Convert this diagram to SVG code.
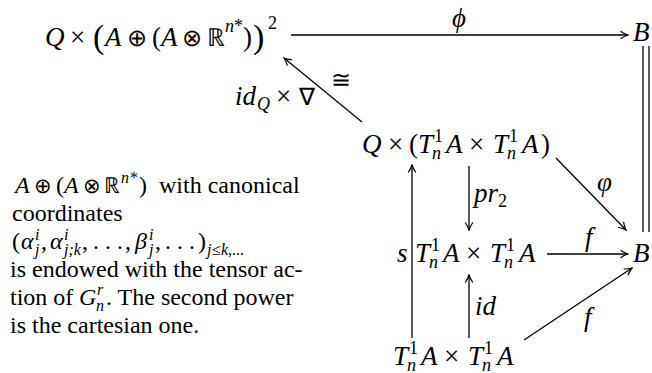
<svg xmlns="http://www.w3.org/2000/svg" width="652" height="373" viewBox="0 0 652 373">
<defs>
<marker id="ah" markerUnits="userSpaceOnUse" markerWidth="10" markerHeight="10" viewBox="-9 -5 10 10" refX="0" refY="0" orient="auto">
<path d="M-7.5,-3.8 Q-3,-0.8 0,0 Q-3,0.8 -7.5,3.8" fill="none" stroke="#000" stroke-width="1.2"/>
</marker>
</defs>
<rect width="652" height="373" fill="#fff"/>

<g id="n-top">
<text font-family="Liberation Serif" font-size="27" x="45" y="46" font-style="italic">Q</text>
<text font-family="Liberation Serif" font-size="27" x="70" y="46">×</text>
<text font-family="Liberation Serif" font-size="34" x="93" y="48">(</text>
<text font-family="Liberation Serif" font-size="27" x="105" y="46" font-style="italic">A</text>
<text font-family="Liberation Serif" font-size="24" x="127" y="46">⊕</text>
<text font-family="Liberation Serif" font-size="27" x="152" y="46">(</text>
<text font-family="Liberation Serif" font-size="27" x="161" y="46" font-style="italic">A</text>
<text font-family="Liberation Serif" font-size="24" x="182" y="46">⊗</text>
<text font-family="Liberation Serif" font-size="25" x="207" y="46">ℝ</text>
<text font-family="Liberation Serif" font-size="18" x="225" y="32" font-style="italic">n</text>
<text font-family="Liberation Serif" font-size="18" x="234" y="32">*</text>
<text font-family="Liberation Serif" font-size="27" x="243" y="46">)</text>
<text font-family="Liberation Serif" font-size="34" x="253" y="48">)</text>
<text font-family="Liberation Serif" font-size="18" x="268" y="29">2</text>
</g>

<g id="n-B1"><text font-family="Liberation Serif" font-size="27" font-style="italic" x="633" y="41">B</text></g>

<g id="n-mid">
<text font-family="Liberation Serif" font-size="27" x="362" y="153" font-style="italic">Q</text>
<text font-family="Liberation Serif" font-size="27" x="388" y="153">×</text>
<text font-family="Liberation Serif" font-size="27" x="409" y="153">(</text>
<text font-family="Liberation Serif" font-size="27" x="418" y="153" font-style="italic">T</text>
<text font-family="Liberation Serif" font-size="18" x="434" y="142">1</text>
<text font-family="Liberation Serif" font-size="18" x="432" y="159" font-style="italic">n</text>
<text font-family="Liberation Serif" font-size="27" x="446" y="153" font-style="italic">A</text>
<text font-family="Liberation Serif" font-size="27" x="469" y="153">×</text>
<text font-family="Liberation Serif" font-size="27" x="493" y="153" font-style="italic">T</text>
<text font-family="Liberation Serif" font-size="18" x="509" y="142">1</text>
<text font-family="Liberation Serif" font-size="18" x="507" y="159" font-style="italic">n</text>
<text font-family="Liberation Serif" font-size="27" x="522" y="153" font-style="italic">A</text>
<text font-family="Liberation Serif" font-size="27" x="541" y="153">)</text>
</g>

<g id="n-row">
<text font-family="Liberation Serif" font-size="27" x="415" y="262" font-style="italic">T</text>
<text font-family="Liberation Serif" font-size="18" x="431" y="251">1</text>
<text font-family="Liberation Serif" font-size="18" x="429" y="268" font-style="italic">n</text>
<text font-family="Liberation Serif" font-size="27" x="443" y="262" font-style="italic">A</text>
<text font-family="Liberation Serif" font-size="27" x="466" y="262">×</text>
<text font-family="Liberation Serif" font-size="27" x="490" y="262" font-style="italic">T</text>
<text font-family="Liberation Serif" font-size="18" x="506" y="251">1</text>
<text font-family="Liberation Serif" font-size="18" x="504" y="268" font-style="italic">n</text>
<text font-family="Liberation Serif" font-size="27" x="519" y="262" font-style="italic">A</text>
</g>

<g id="n-B2"><text font-family="Liberation Serif" font-size="27" font-style="italic" x="633" y="262">B</text></g>

<g id="n-bot">
<text font-family="Liberation Serif" font-size="27" x="393" y="365" font-style="italic">T</text>
<text font-family="Liberation Serif" font-size="18" x="409" y="354">1</text>
<text font-family="Liberation Serif" font-size="18" x="407" y="371" font-style="italic">n</text>
<text font-family="Liberation Serif" font-size="27" x="421" y="365" font-style="italic">A</text>
<text font-family="Liberation Serif" font-size="27" x="444" y="365">×</text>
<text font-family="Liberation Serif" font-size="27" x="468" y="365" font-style="italic">T</text>
<text font-family="Liberation Serif" font-size="18" x="484" y="354">1</text>
<text font-family="Liberation Serif" font-size="18" x="482" y="371" font-style="italic">n</text>
<text font-family="Liberation Serif" font-size="27" x="497" y="365" font-style="italic">A</text>
</g>

<g id="connectors" stroke="#000" stroke-width="1.3" fill="none">
<line marker-end="url(#ah)" x1="291" y1="35" x2="628" y2="35"/>
<line x1="643" y1="46" x2="643" y2="232"/>
<line x1="649" y1="46" x2="649" y2="232"/>
<line marker-end="url(#ah)" x1="362" y1="122" x2="284" y2="58"/>
<line marker-end="url(#ah)" x1="412" y1="338" x2="412" y2="165"/>
<line marker-end="url(#ah)" x1="469" y1="166" x2="469" y2="230"/>
<line marker-end="url(#ah)" x1="469" y1="338" x2="469" y2="275"/>
<line marker-end="url(#ah)" x1="556" y1="158" x2="626" y2="230"/>
<line marker-end="url(#ah)" x1="547" y1="254" x2="628" y2="254"/>
<line marker-end="url(#ah)" x1="524" y1="340" x2="632" y2="268"/>
</g>

<g id="labels">
<text font-family="Liberation Serif" font-size="27" font-style="italic" x="452" y="27">ϕ</text>
<text font-family="Liberation Serif" font-size="27" font-style="italic" x="235" y="105">id</text>
<text font-family="Liberation Serif" font-size="18" font-style="italic" x="257" y="110">Q</text>
<text font-family="Liberation Serif" font-size="27" x="276" y="105">×</text>
<text font-family="Liberation Serif" font-size="24" x="299" y="105">∇</text>
<text font-family="Liberation Serif" font-size="24" x="331" y="88">≅</text>
<text font-family="Liberation Serif" font-size="27" font-style="italic" x="597" y="191">φ</text>
<text font-family="Liberation Serif" font-size="27" font-style="italic" x="474" y="202">pr</text>
<text font-family="Liberation Serif" font-size="18" x="498" y="207">2</text>
<text font-family="Liberation Serif" font-size="27" font-style="italic" x="397" y="262">s</text>
<text font-family="Liberation Serif" font-size="27" font-style="italic" x="585" y="246">f</text>
<text font-family="Liberation Serif" font-size="27" font-style="italic" x="475" y="315">id</text>
<text font-family="Liberation Serif" font-size="27" font-style="italic" x="584" y="326">f</text>
</g>

<g id="note">
<text font-family="Liberation Serif" font-size="24" x="15" y="193" font-style="italic">A</text>
<text font-family="Liberation Serif" font-size="21" x="34" y="193">⊕</text>
<text font-family="Liberation Serif" font-size="24" x="56" y="193">(</text>
<text font-family="Liberation Serif" font-size="24" x="64" y="193" font-style="italic">A</text>
<text font-family="Liberation Serif" font-size="21" x="83" y="193">⊗</text>
<text font-family="Liberation Serif" font-size="22" x="104" y="193">ℝ</text>
<text font-family="Liberation Serif" font-size="16" x="121" y="183" font-style="italic">n</text>
<text font-family="Liberation Serif" font-size="16" x="130" y="183">*</text>
<text font-family="Liberation Serif" font-size="24" x="139" y="193">)</text>
<text font-family="Liberation Serif" font-size="24" x="159" y="193">with canonical</text>
<text font-family="Liberation Serif" font-size="24" x="12" y="221">coordinates</text>
<text font-family="Liberation Serif" font-size="24" x="12" y="249">(</text>
<text font-family="Liberation Serif" font-size="24" x="21" y="249" font-style="italic">α</text>
<text font-family="Liberation Serif" font-size="16" x="35" y="240" font-style="italic">i</text>
<text font-family="Liberation Serif" font-size="16" x="35" y="255" font-style="italic">j</text>
<text font-family="Liberation Serif" font-size="24" x="41" y="249">,</text>
<text font-family="Liberation Serif" font-size="24" x="50" y="249" font-style="italic">α</text>
<text font-family="Liberation Serif" font-size="16" x="64" y="240" font-style="italic">i</text>
<text font-family="Liberation Serif" font-size="16" x="64" y="255" font-style="italic">j;k</text>
<text font-family="Liberation Serif" font-size="24" x="82" y="249">,</text>
<text font-family="Liberation Serif" font-size="24" x="93" y="249">. . .</text>
<text font-family="Liberation Serif" font-size="24" x="125" y="249">,</text>
<text font-family="Liberation Serif" font-size="24" x="135" y="249" font-style="italic">β</text>
<text font-family="Liberation Serif" font-size="16" x="149" y="240" font-style="italic">i</text>
<text font-family="Liberation Serif" font-size="16" x="149" y="255" font-style="italic">j</text>
<text font-family="Liberation Serif" font-size="24" x="155" y="249">,</text>
<text font-family="Liberation Serif" font-size="24" x="165" y="249">. . .</text>
<text font-family="Liberation Serif" font-size="24" x="198" y="249">)</text>
<text font-family="Liberation Serif" font-size="16" x="207" y="255" font-style="italic">j</text>
<text font-family="Liberation Serif" font-size="16" x="212" y="255">≤</text>
<text font-family="Liberation Serif" font-size="16" x="221" y="255" font-style="italic">k</text>
<text font-family="Liberation Serif" font-size="16" x="228" y="255">,...</text>
<text font-family="Liberation Serif" font-size="24" x="10" y="277">is endowed with the tensor ac-</text>
<text font-family="Liberation Serif" font-size="24" x="10" y="305">tion of</text>
<text font-family="Liberation Serif" font-size="24" x="79" y="305" font-style="italic">G</text>
<text font-family="Liberation Serif" font-size="16" x="97" y="295" font-style="italic">r</text>
<text font-family="Liberation Serif" font-size="16" x="96" y="311" font-style="italic">n</text>
<text font-family="Liberation Serif" font-size="24" x="106" y="305">. The second power</text>
<text font-family="Liberation Serif" font-size="24" x="10" y="333">is the cartesian one.</text>
</g>
</svg>
